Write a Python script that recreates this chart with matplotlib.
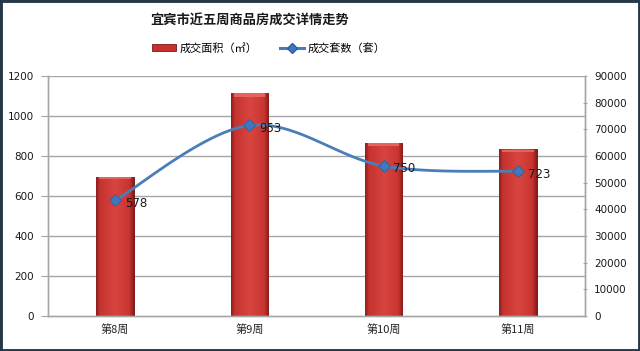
import numpy as np
import matplotlib
matplotlib.use("Agg")
import matplotlib.pyplot as plt
from matplotlib.patches import Rectangle
from matplotlib.lines import Line2D
from matplotlib.colors import LinearSegmentedColormap

plt.rcParams['font.family'] = ['Noto Sans CJK SC', 'DejaVu Sans']

title = "宜宾市近五周商品房成交详情走势"
categories = ["第8周", "第9周", "第10周", "第11周"]
area_m2 = [52200, 83800, 65000, 62600]      # 成交面积（㎡）, right axis
units = [578, 953, 750, 723]                # 成交套数（套）, left axis
left_ticks = [0, 200, 400, 600, 800, 1000, 1200]
right_ticks = [0, 10000, 20000, 30000, 40000, 50000, 60000, 70000, 80000, 90000]

fig = plt.figure(figsize=(6.4, 3.51), dpi=100)
fig.patch.set_facecolor('white')
ax = fig.add_axes([0.075, 0.0997, 0.839, 0.6838])
ax2 = ax.twinx()

x = np.arange(len(categories))
grid_c = '#A6A6A6'

ax2.set_zorder(1)
ax.set_zorder(2)
ax.patch.set_visible(False)
ax2.patch.set_visible(True)
ax2.patch.set_facecolor('white')

ax.set_ylim(left_ticks[0], left_ticks[-1])
ax2.set_ylim(right_ticks[0], right_ticks[-1])
ax.set_xlim(-0.5, len(categories) - 0.5)
ax2.set_xlim(-0.5, len(categories) - 0.5)

scale = right_ticks[-1] / left_ticks[-1]
for t in left_ticks[1:]:
    ax2.axhline(t * scale, color=grid_c, lw=1.0, zorder=0)

bw = 0.28
bars = ax2.bar(x, area_m2, width=bw, color='#CF3A36', edgecolor='#7E1818', lw=0.7, zorder=2)
cmap = LinearSegmentedColormap.from_list('bev', [(0, '#8E1E1E'), (0.1, '#C63430'), (0.5, '#D8443F'),
                                                 (0.88, '#C93531'), (1, '#8A1C1C')])
grad = np.linspace(0, 1, 64).reshape(1, -1)
for b in bars:
    x0 = b.get_x(); w = b.get_width(); h = b.get_height()
    im = ax2.imshow(grad, extent=[x0, x0 + w, 0, h], aspect='auto', cmap=cmap, zorder=2.5)
    im.set_clip_path(b)
    ax2.add_patch(Rectangle((x0 + w * 0.08, h * 0.982), w * 0.84, h * 0.014,
                            facecolor='#E5625D', edgecolor='none', zorder=2.6))
ax2.set_xlim(-0.5, len(categories) - 0.5)
ax2.set_ylim(right_ticks[0], right_ticks[-1])

# smooth line (Catmull-Rom through the data points)
px = np.asarray(x, float); py = np.asarray(units, float)
P = np.vstack([px, py]).T
Pe = np.vstack([P[0], P, P[-1]])
cx, cy = [], []
for i in range(1, len(Pe) - 2):
    p0, p1, p2, p3 = Pe[i - 1], Pe[i], Pe[i + 1], Pe[i + 2]
    t = np.linspace(0, 1, 40)[:, None]
    c = 0.5 * ((2 * p1) + (-p0 + p2) * t + (2 * p0 - 5 * p1 + 4 * p2 - p3) * t ** 2 + (-p0 + 3 * p1 - 3 * p2 + p3) * t ** 3)
    cx.extend(c[:, 0]); cy.extend(c[:, 1])
ax.plot(cx, cy, color='#4A7EBB', lw=2.0, zorder=3, solid_capstyle='round')
ax.plot(x, units, linestyle='none', marker='D', ms=6, color='#3F78BE', mec='#2E5F9E', mew=0.6, zorder=4)
for xi, v in zip(x, units):
    ax.annotate(str(v), (xi, v), xytext=(7, -2), textcoords='offset points', ha='left', va='center',
                fontsize=8.5, color='#1A1A1A', family='DejaVu Sans', zorder=5)

ax.set_yticks(left_ticks)
ax2.set_yticks(right_ticks)
ax.set_xticks(x)
ax.set_xticklabels(categories, fontsize=8, color='#222222')
ax.tick_params(axis='x', length=0, pad=6)
ax.tick_params(axis='y', length=5, color=grid_c, labelsize=7.5, labelcolor='#1A1A1A', pad=5)
ax2.tick_params(axis='y', length=3, color=grid_c, labelsize=7.5, labelcolor='#1A1A1A', pad=5, direction='inout')
for lab in ax.get_yticklabels() + ax2.get_yticklabels():
    lab.set_family('DejaVu Sans')
for a in (ax, ax2):
    for s in a.spines.values():
        s.set_color(grid_c)
        s.set_linewidth(1.0)
ax.spines['top'].set_visible(False)
ax2.spines['top'].set_visible(False)

fig.text(0.39, 0.942, title, ha='center', va='center', fontsize=9.5, fontweight='bold', color='#1A1A1A')

handles = [Rectangle((0, 0), 1, 1, facecolor='#C9302C', edgecolor='#7E1818', lw=0.6),
           Line2D([0], [0], color='#4A7EBB', lw=2.2, marker='D', ms=5, mfc='#3F78BE', mec='#2E5F9E')]
fig.legend(handles, ["成交面积（㎡）", "成交套数（套）"], loc='center', bbox_to_anchor=(0.42, 0.862),
           ncol=2, frameon=False, fontsize=8, handlelength=2.2, handleheight=0.6, columnspacing=2.0,
           handletextpad=0.3)

fig.patches.append(Rectangle((0, 0), 1, 1, transform=fig.transFigure, fill=False,
                             edgecolor='#25384A', lw=3.5, zorder=10))

fig.savefig('out.png', dpi=100, facecolor='white')
